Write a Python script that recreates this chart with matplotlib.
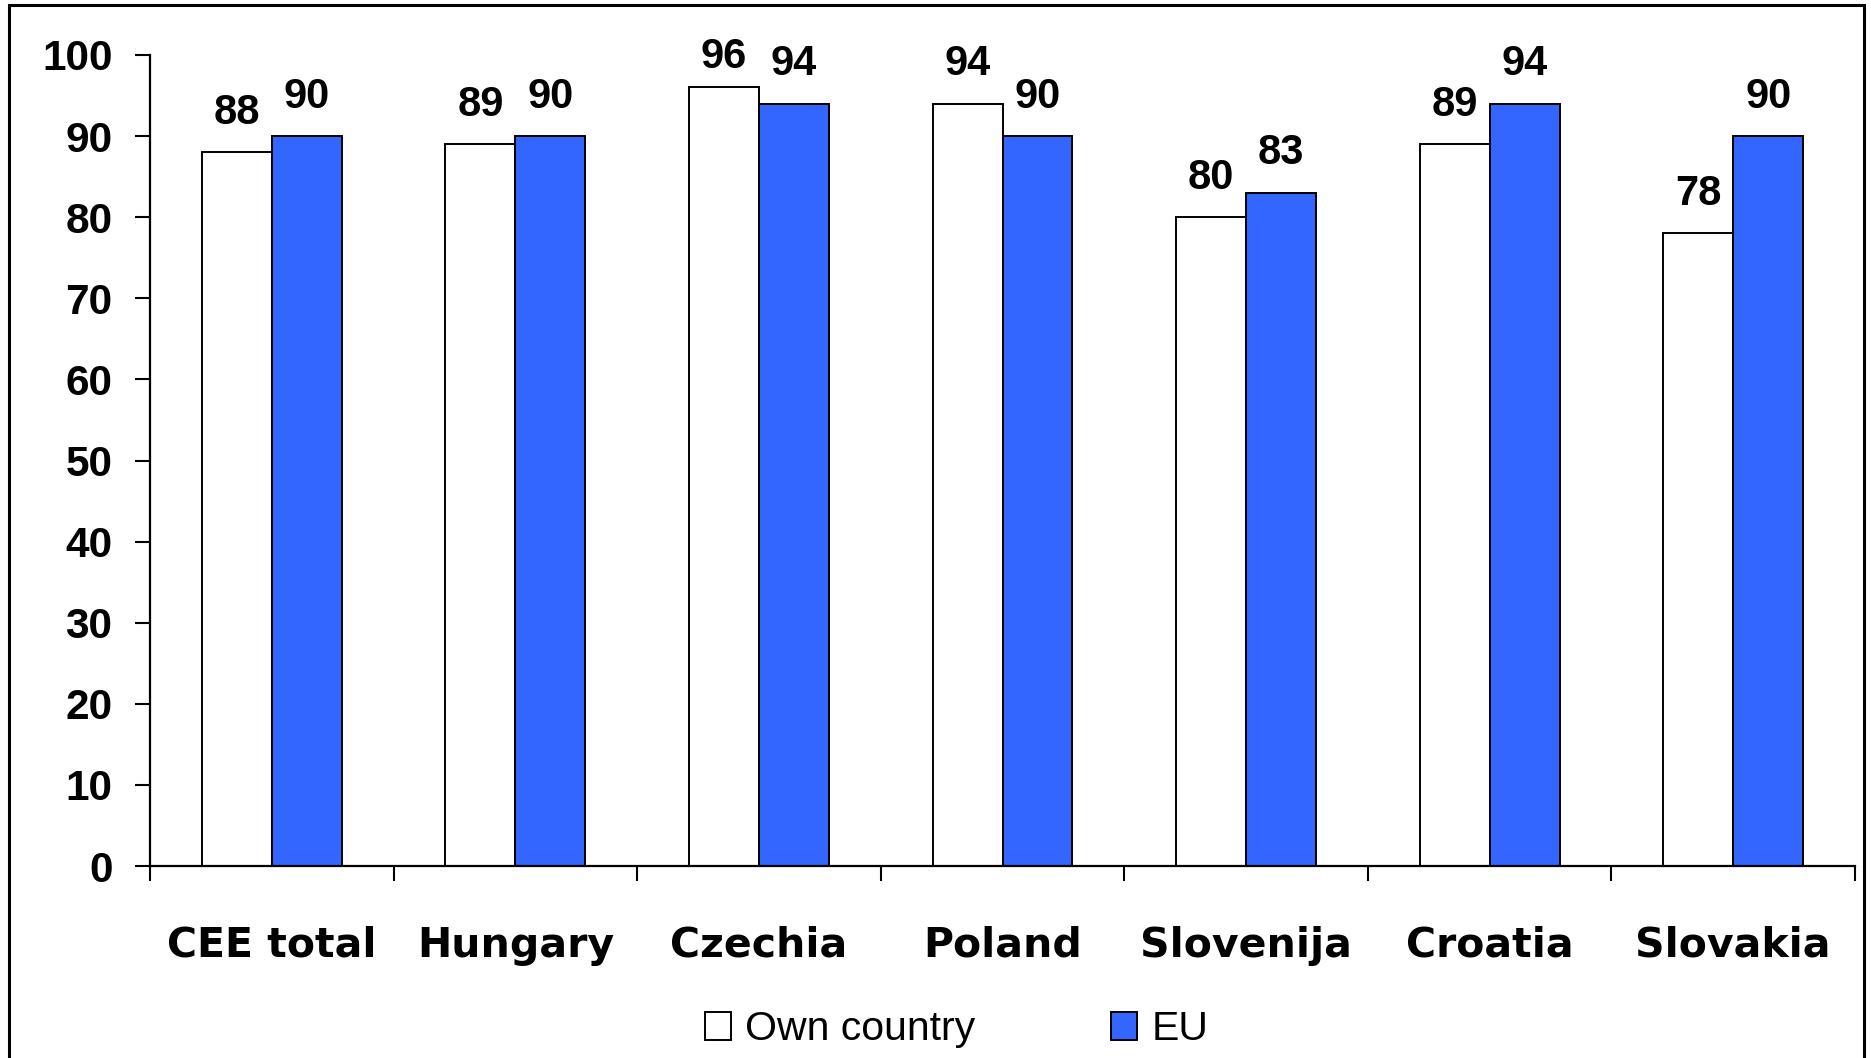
import matplotlib
matplotlib.use("Agg")
import matplotlib.pyplot as plt
import numpy as np
from matplotlib.patches import Rectangle

categories = ["CEE total", "Hungary", "Czechia", "Poland", "Slovenija", "Croatia", "Slovakia"]
own_country = [88, 89, 96, 94, 80, 89, 78]
eu = [90, 90, 94, 90, 83, 94, 90]
yticks = [0, 10, 20, 30, 40, 50, 60, 70, 80, 90, 100]

W, H = 1871, 1058
fig = plt.figure(figsize=(W / 100, H / 100), dpi=100)
fig.patch.set_facecolor("white")

ax = fig.add_axes([150 / W, 1 - 866 / H, (1855 - 150) / W, (866 - 55) / H])

x = np.arange(len(categories))
bw = 0.287
blue = "#3366FF"
ax.bar(x - bw / 2, own_country, bw, color="white", edgecolor="black", linewidth=1.4)
ax.bar(x + bw / 2, eu, bw, color=blue, edgecolor="black", linewidth=1.4)

numfont = dict(family="Liberation Sans", weight="bold", size=30)
label_gap = 3.5   # data units above bar
label_cap = 98.4  # labels kept inside the plot area
for xs, vals in ((x - bw / 2, own_country), (x + bw / 2, eu)):
    for xi, v in zip(xs, vals):
        ax.text(xi, min(v + label_gap, label_cap), str(v), ha="center", va="baseline",
                clip_on=False, **numfont)

ax.set_xlim(-0.5, len(categories) - 0.5)
ax.set_ylim(0, 100)
ax.set_yticks(yticks)
ax.set_yticklabels([str(t) for t in yticks], fontfamily="Liberation Sans", fontweight="bold", fontsize=30.5)
ax.tick_params(axis="y", direction="out", length=11, width=1.5, pad=16)

ax.set_xticks(x)
ax.set_xticklabels(categories, fontfamily="DejaVu Sans", fontweight="bold", fontsize=29.5)
ax.set_xticks(np.arange(-0.5, len(categories)), minor=True)
ax.tick_params(axis="x", which="major", length=0, pad=43)
ax.tick_params(axis="x", which="minor", direction="out", length=11, width=1.5)

for s in ["top", "right"]:
    ax.spines[s].set_visible(False)
for s in ["left", "bottom"]:
    ax.spines[s].set_linewidth(1.6)

legfont = dict(family="Liberation Sans", size=29.5)
h1 = Rectangle((0, 0), 1, 1, facecolor="white", edgecolor="black", linewidth=1.4)
h2 = Rectangle((0, 0), 1, 1, facecolor=blue, edgecolor="black", linewidth=1.4)
fig.legend([h1, h2], ["Own country", "EU"], loc="center", bbox_to_anchor=(956.5 / W, 1 - 1029.5 / H),
           ncol=2, frameon=False, prop=legfont,
           handlelength=0.65, handleheight=0.65, handletextpad=0.34, columnspacing=3.3,
           borderpad=0, borderaxespad=0)

border = Rectangle((9 / W, -0.05), (1864 - 9) / W, (1 - 5 / H) + 0.05, transform=fig.transFigure,
                   facecolor="none", edgecolor="black", linewidth=2.2, clip_on=False)
fig.patches.append(border)

fig.savefig("out.png", dpi=100, facecolor="white")
